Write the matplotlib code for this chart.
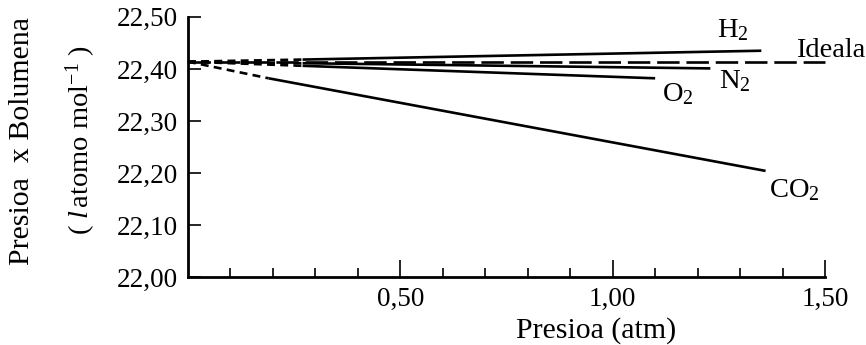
import matplotlib
matplotlib.use("Agg")
import matplotlib.pyplot as plt

plt.rcParams["font.family"] = ["Liberation Serif", "DejaVu Serif"]
plt.rcParams["mathtext.fontset"] = "custom"
plt.rcParams["mathtext.rm"] = "Liberation Serif"
plt.rcParams["mathtext.it"] = "Liberation Serif:italic"

# Pressure (atm) and PV product (l atm mol^-1) for each gas.
# First segment (extrapolation to p = 0) is drawn dashed, the rest solid.
h2_p = [0.0, 0.27, 1.35]
h2_pv = [22.414, 22.418, 22.435]
n2_p = [0.0, 0.27, 1.23]
n2_pv = [22.414, 22.411, 22.401]
o2_p = [0.0, 0.27, 1.10]
o2_pv = [22.414, 22.406, 22.382]
co2_p = [0.0, 0.19, 1.36]
co2_pv = [22.414, 22.382, 22.204]
ideal_p = [0.0, 1.50]
ideal_pv = [22.414, 22.414]

gases = [
    ("H$_2$", h2_p, h2_pv, (1.246, 22.462)),
    ("N$_2$", n2_p, n2_pv, (1.251, 22.364)),
    ("O$_2$", o2_p, o2_pv, (1.116, 22.338)),
    ("CO$_2$", co2_p, co2_pv, (1.368, 22.153)),
]

x_major = [0.50, 1.00, 1.50]
x_major_labels = ["0,50", "1,00", "1,50"]
x_minor = [0.1, 0.2, 0.3, 0.4, 0.6, 0.7, 0.8, 0.9, 1.1, 1.2, 1.3, 1.4]
y_ticks = [22.00, 22.10, 22.20, 22.30, 22.40, 22.50]
y_tick_labels = ["22,00", "22,10", "22,20", "22,30", "22,40", "22,50"]

tick_fs = 19.5
note_fs = 20.5
fig = plt.figure(figsize=(8.66, 3.45), dpi=100)
ax = fig.add_axes([0.217, 0.197, 0.7357, 0.754])
ax.set_xlim(0, 1.5)
ax.set_ylim(22.0, 22.5)

lw = 1.9
for name, p, pv, (tx, ty) in gases:
    ax.plot(p[:2], pv[:2], color="black", lw=lw, dashes=(3.0, 2.0),
            solid_capstyle="butt", clip_on=False)
    ax.plot(p[1:], pv[1:], color="black", lw=lw, solid_capstyle="butt",
            clip_on=False)
    ax.text(tx, ty, name, fontsize=note_fs, va="baseline", ha="left",
            clip_on=False)

ax.plot(ideal_p, ideal_pv, color="black", lw=lw, dashes=(8.5, 2.6),
        clip_on=False)
ax.text(1.432, 22.423, "Ideala", fontsize=note_fs, va="baseline",
        ha="left", clip_on=False)

for s in ("top", "right"):
    ax.spines[s].set_visible(False)
for s in ("left", "bottom"):
    ax.spines[s].set_linewidth(2.0)

ax.set_xticks(x_major)
ax.set_xticklabels(x_major_labels, fontsize=tick_fs)
ax.set_xticks(x_minor, minor=True)
ax.tick_params(axis="x", which="major", direction="in", length=12,
               width=1.2, pad=7)
ax.tick_params(axis="x", which="minor", direction="in", length=6.5,
               width=1.2)
ax.set_yticks(y_ticks)
ax.set_yticklabels(y_tick_labels, fontsize=tick_fs)
ax.tick_params(axis="y", direction="in", length=9, width=1.2, pad=7)

fig.text(0.688, 0.003, "Presioa (atm)", fontsize=21.5, ha="center",
         va="bottom")
fig.text(0.025, 0.59, "Presioa  x Bolumena", fontsize=21.5, rotation=90,
         ha="center", va="center")
fig.text(0.093, 0.594, "( $l\\,$atomo mol$^{-1}$ )", fontsize=20.5,
         rotation=90, ha="center", va="center")

fig.savefig("out.png", dpi=100)
